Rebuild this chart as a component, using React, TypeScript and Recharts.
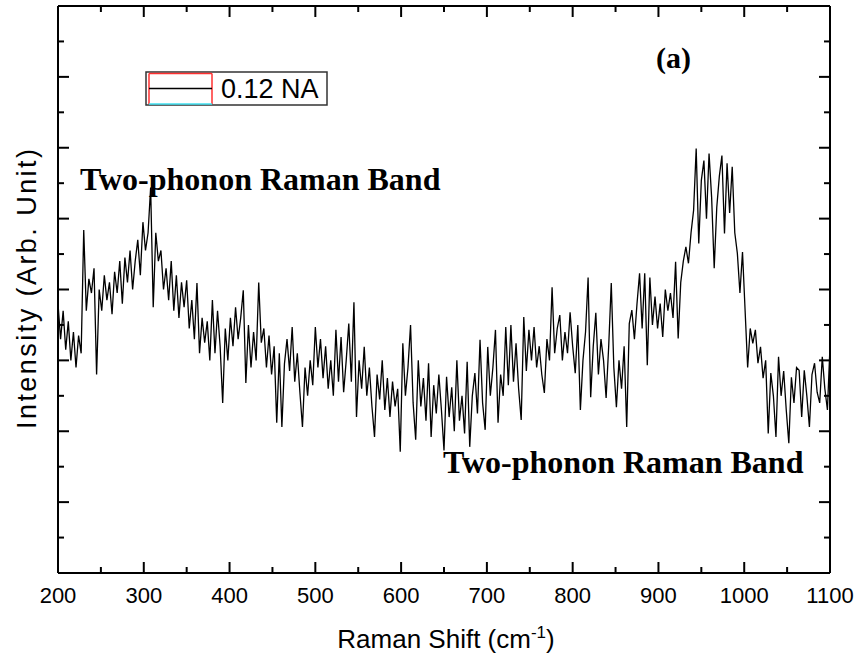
import React from 'react';
import { LineChart, Line, XAxis, YAxis, Legend, Customized } from 'recharts';

// Raman shift grid (cm^-1)
const shifts = [
  200, 203, 206, 209, 212, 215, 218, 221, 224, 227,
  230, 233, 236, 239, 242, 245, 248, 251, 254, 257,
  260, 263, 266, 269, 272, 275, 278, 281, 284, 287,
  290, 293, 296, 299, 302, 305, 308, 311, 314, 317,
  320, 323, 326, 329, 332, 335, 338, 341, 344, 347,
  350, 353, 356, 359, 362, 365, 368, 371, 374, 377,
  380, 383, 386, 389, 392, 395, 398, 401, 404, 407,
  410, 413, 416, 419, 422, 425, 428, 431, 434, 437,
  440, 443, 446, 449, 452, 455, 458, 461, 464, 467,
  470, 473, 476, 479, 482, 485, 488, 491, 494, 497,
  500, 503, 506, 509, 512, 515, 518, 521, 524, 527,
  530, 533, 536, 539, 542, 545, 548, 551, 554, 557,
  560, 563, 566, 569, 572, 575, 578, 581, 584, 587,
  590, 593, 596, 599, 602, 605, 608, 611, 614, 617,
  620, 623, 626, 629, 632, 635, 638, 641, 644, 647,
  650, 653, 656, 659, 662, 665, 668, 671, 674, 677,
  680, 683, 686, 689, 692, 695, 698, 701, 704, 707,
  710, 713, 716, 719, 722, 725, 728, 731, 734, 737,
  740, 743, 746, 749, 752, 755, 758, 761, 764, 767,
  770, 773, 776, 779, 782, 785, 788, 791, 794, 797,
  800, 803, 806, 809, 812, 815, 818, 821, 824, 827,
  830, 833, 836, 839, 842, 845, 848, 851, 854, 857,
  860, 863, 866, 869, 872, 875, 878, 881, 884, 887,
  890, 893, 896, 899, 902, 905, 908, 911, 914, 917,
  920, 923, 926, 929, 932, 935, 938, 941, 944, 947,
  950, 953, 956, 959, 962, 965, 968, 971, 974, 977,
  980, 983, 986, 989, 992, 995, 998, 1001, 1004, 1007,
  1010, 1013, 1016, 1019, 1022, 1025, 1028, 1031, 1034, 1037,
  1040, 1043, 1046, 1049, 1052, 1055, 1058, 1061, 1064, 1067,
  1070, 1073, 1076, 1079, 1082, 1085, 1088, 1091, 1094, 1097, 1100,
];

// Measured intensity (arbitrary units) for the 0.12 NA spectrum
const intensity = [
  380, 330, 370, 315, 355, 300, 340, 290, 335, 310,
  484, 370, 415, 395, 430, 280, 400, 370, 420, 385,
  410, 365, 425, 395, 440, 380, 445, 410, 455, 400,
  440, 470, 420, 495, 455, 480, 544, 375, 480, 440,
  455, 400, 430, 385, 440, 370, 420, 360, 410, 375,
  413, 345, 385, 330, 409, 310, 360, 325, 355, 300,
  385, 310, 370, 320, 240, 345, 300, 360, 320, 375,
  330, 360, 399, 268, 350, 290, 340, 300, 410, 325,
  345, 290, 335, 280, 320, 212, 310, 206, 295, 330,
  285, 347, 270, 310, 255, 206, 290, 250, 300, 265,
  347, 290, 330, 275, 320, 260, 300, 250, 343, 270,
  333, 255, 300, 352, 270, 382, 220, 300, 260, 319,
  250, 290, 235, 192, 280, 245, 300, 230, 275, 220,
  270, 235, 260, 171, 324, 250, 290, 350, 240, 188,
  300, 235, 275, 215, 296, 192, 265, 225, 280, 230,
  173, 277, 220, 262, 200, 300, 215, 250, 197, 298,
  178, 250, 282, 225, 329, 240, 202, 319, 250, 290,
  343, 212, 280, 250, 347, 265, 350, 270, 324, 260,
  216, 361, 285, 343, 300, 347, 290, 320, 280, 254,
  330, 300, 403, 310, 345, 364, 300, 340, 310, 368,
  320, 282, 350, 230, 300, 340, 417, 248, 320, 367,
  280, 330, 300, 247, 320, 409, 290, 234, 300, 260,
  320, 206, 352, 371, 330, 380, 423, 345, 423, 293,
  417, 350, 390, 345, 380, 333, 400, 370, 395, 360,
  439, 331, 410, 440, 460, 437, 480, 512, 599, 465,
  554, 582, 500, 592, 530, 430, 516, 560, 589, 479,
  578, 508, 573, 480, 451, 395, 453, 371, 290, 345,
  324, 343, 296, 319, 275, 300, 197, 282, 250, 192,
  305, 250, 285, 230, 183, 276, 240, 290, 286, 220,
  286, 250, 206, 280, 296, 255, 240, 305, 260, 230, 320,
];

const xTicks = [
  200, 250, 300, 350, 400, 450, 500, 550, 600, 650,
  700, 750, 800, 850, 900, 950, 1000, 1050, 1100,
];
const yTicks = [0, 50, 100, 150, 200, 250, 300, 350, 400, 450, 500, 550, 600, 650, 700, 750, 800];

const seriesName = '0.12 NA';
const xTitle = 'Raman Shift (cm';
const xTitleSup = '-1';
const yTitle = 'Intensity (Arb. Unit)';
const bandLabel = 'Two-phonon Raman Band';
const panelTag = '(a)';

const data = shifts.map((s, i) => ({ shift: s, intensity: intensity[i] }));

const SANS = "'Liberation Sans', Arial, Helvetica, sans-serif";
const SERIF = "'Liberation Serif', 'Times New Roman', Times, serif";
const MAJOR = 11;
const MINOR = 6;
const isMajor = (v: number, step: number) => v % step === 0;

const BottomTick = (props: any) => {
  const { x, y, payload } = props;
  const major = isMajor(payload.value, 100);
  return (
    <g>
      <line x1={x} x2={x} y1={y} y2={y - (major ? MAJOR : MINOR)} stroke="#000" strokeWidth={2} />
      {major && (
        <text x={x} y={y + 30} textAnchor="middle" fontSize={22} fontFamily={SANS} fill="#000">
          {payload.value}
        </text>
      )}
    </g>
  );
};

const TopTick = (props: any) => {
  const { x, y, payload } = props;
  const major = isMajor(payload.value, 100);
  return <line x1={x} x2={x} y1={y} y2={y + (major ? MAJOR : MINOR)} stroke="#000" strokeWidth={2} />;
};

const LeftTick = (props: any) => {
  const { x, y, payload } = props;
  const major = isMajor(payload.value, 100);
  return <line x1={x} x2={x + (major ? MAJOR : MINOR)} y1={y} y2={y} stroke="#000" strokeWidth={2} />;
};

const RightTick = (props: any) => {
  const { x, y, payload } = props;
  const major = isMajor(payload.value, 100);
  return <line x1={x} x2={x - (major ? MAJOR : MINOR)} y1={y} y2={y} stroke="#000" strokeWidth={2} />;
};

const Annotations = () => (
  <g>
    <text x={446} y={648} textAnchor="middle" fontSize={26} fontFamily={SANS} fill="#000">
      <tspan>{xTitle}</tspan>
      <tspan dy={-10} fontSize={17}>{xTitleSup}</tspan>
      <tspan dy={10}>)</tspan>
    </text>
    <text
      x={0}
      y={0}
      transform="translate(36 289) rotate(-90)"
      textAnchor="middle"
      fontSize={27}
      fontFamily={SANS}
      fill="#000"
      textLength={280}
      lengthAdjust="spacing"
    >
      {yTitle}
    </text>
    <text x={80} y={190} fontSize={32} fontWeight="bold" fontFamily={SERIF} fill="#000">
      {bandLabel}
    </text>
    <text x={443} y={473} fontSize={32} fontWeight="bold" fontFamily={SERIF} fill="#000">
      {bandLabel}
    </text>
    <text x={656} y={68} fontSize={30} fontWeight="bold" fontFamily={SERIF} fill="#000">
      {panelTag}
    </text>
  </g>
);

const LegendBox = (props: any) => {
  const item = props.payload && props.payload[0];
  const label = item ? item.value : seriesName;
  return (
    <svg width={184} height={36} style={{ display: 'block' }}>
      <rect x={1} y={1} width={181} height={33} fill="#fff" stroke="#333" strokeWidth={1.5} />
      <line x1={4} x2={67} y1={2.5} y2={2.5} stroke="#ff3030" strokeWidth={1.5} />
      <line x1={4} x2={4} y1={2.5} y2={33} stroke="#ff3030" strokeWidth={1.5} />
      <line x1={67} x2={67} y1={2.5} y2={33} stroke="#ff3030" strokeWidth={1.5} />
      <line x1={4} x2={67} y1={33} y2={33} stroke="#40e0f0" strokeWidth={1.5} />
      <line x1={4} x2={67} y1={17.5} y2={17.5} stroke="#000" strokeWidth={1.5} />
      <text x={76} y={27} fontSize={27} fontFamily={SANS} fill="#000">
        {label}
      </text>
    </svg>
  );
};

export default function App() {
  return (
    <div style={{ position: 'absolute', left: 0, top: 0, background: '#fff' }}>
      <LineChart
        width={859}
        height={666}
        data={data}
        margin={{ top: 5, right: 28, bottom: 92, left: 57 }}
      >
        <XAxis
          xAxisId="b"
          dataKey="shift"
          type="number"
          domain={[200, 1100]}
          ticks={xTicks}
          interval={0}
          height={1}
          tickSize={0}
          tickMargin={0}
          tickLine={false}
          tick={BottomTick}
          axisLine={{ stroke: '#000', strokeWidth: 2 }}
          allowDataOverflow
        />
        <XAxis
          xAxisId="t"
          orientation="top"
          dataKey="shift"
          type="number"
          domain={[200, 1100]}
          ticks={xTicks}
          interval={0}
          height={1}
          tickSize={0}
          tickMargin={0}
          tickLine={false}
          tick={TopTick}
          axisLine={{ stroke: '#000', strokeWidth: 2 }}
          allowDataOverflow
        />
        <YAxis
          yAxisId="l"
          type="number"
          domain={[0, 800]}
          ticks={yTicks}
          interval={0}
          width={1}
          tickSize={0}
          tickMargin={0}
          tickLine={false}
          tick={LeftTick}
          axisLine={{ stroke: '#000', strokeWidth: 2 }}
          allowDataOverflow
        />
        <YAxis
          yAxisId="r"
          orientation="right"
          type="number"
          domain={[0, 800]}
          ticks={yTicks}
          interval={0}
          width={1}
          tickSize={0}
          tickMargin={0}
          tickLine={false}
          tick={RightTick}
          axisLine={{ stroke: '#000', strokeWidth: 2 }}
          allowDataOverflow
        />
        <Legend
          layout="vertical"
          align="center"
          verticalAlign="middle"
          wrapperStyle={{ position: 'absolute', left: 145, top: 71, width: 184, height: 36 }}
          content={LegendBox}
        />
        <Line
          xAxisId="b"
          yAxisId="l"
          type="linear"
          dataKey="intensity"
          name={seriesName}
          stroke="#000"
          strokeWidth={1.3}
          dot={false}
          isAnimationActive={false}
        />
        <Customized component={Annotations} />
      </LineChart>
    </div>
  );
}
